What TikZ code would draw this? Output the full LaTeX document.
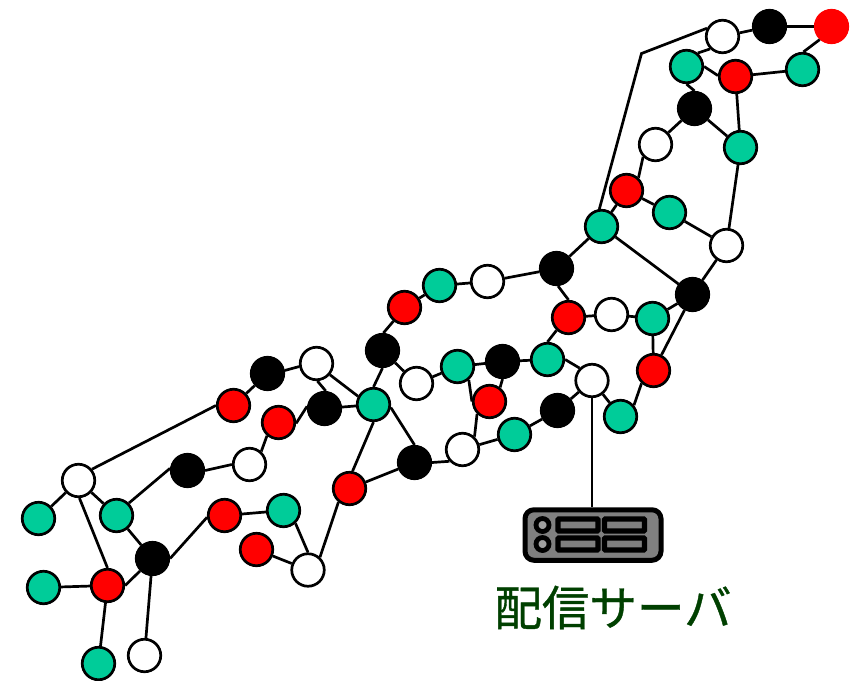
\documentclass[tikz,border=0pt]{standalone}
\usepackage{fontspec}
\newfontfamily\cjk[FakeBold=0.8]{Noto Sans CJK JP}
\definecolor{ngreen}{RGB}{0,204,153}
\definecolor{srvgray}{RGB}{128,128,128}
\definecolor{discgray}{RGB}{160,160,160}
\definecolor{lblgreen}{RGB}{0,64,0}
\tikzset{
  nd/.style={circle,draw=black,line width=2.7pt,minimum size=32.5pt,inner sep=0pt},
  gn/.style={nd,fill=ngreen},
  rd/.style={nd,fill=red},
  wh/.style={nd,fill=white},
  bk/.style={nd,fill=black},
  rr/.style={nd,fill=red,draw=red},
  edge/.style={draw=black,line width=2.7pt},
  srvbody/.style={draw=black,fill=srvgray,line width=5pt,rounded corners=9pt,minimum width=136pt,minimum height=50.5pt,inner sep=0pt},
  srvslot/.style={draw=black,fill=srvgray,line width=5.4pt,rounded corners=1pt,minimum width=40pt,minimum height=12pt,inner sep=0pt},
  srvdisc/.style={circle,draw=black,fill=discgray,line width=4.8pt,minimum size=13pt,inner sep=0pt},
}
\begin{document}
\begin{tikzpicture}[x=1pt,y=-1pt]
\useasboundingbox (-0.5,-0.5) rectangle (853.5,679.5);
\foreach \n/\s/\x/\y in {
 w1/wh/722/36,k1/bk/769/26,r1/rr/831/26,g1/gn/686/66,r2/rd/735/76,g2/gn/802/69,
 k2/bk/694/108,w2/wh/655/144,g3/gn/740/147,r3/rd/626/190,g4/gn/669/212,g5/gn/601/226,
 w3/wh/726/245,k3/bk/556/268,k4/bk/692/294,w4/wh/487/281,g6/gn/439/285,r4/rd/404/307,
 r5/rd/568/317,w5/wh/611/314,g7/gn/652/318,k5/bk/382/350,r6/rd/653/370,g8/gn/547/359,
 k6/bk/502/361,g9/gn/457/366,w6/wh/416/383,w7/wh/591.5/380,k7/bk/557/410,g10/gn/620/416,
 r7/rd/489/401,g11/gn/514/434,w8/wh/462/449,k8/bk/414/462,g12/gn/373/404,k9/bk/324/408,
 w9/wh/316/363,k10/bk/267/373,r8/rd/233/405,r9/rd/278/422,w10/wh/249/464,k11/bk/187/470,
 r10/rd/349/488,w11/wh/78/480,g13/gn/38/518,g14/gn/116/515,k12/bk/152/558,r11/rd/107/585,
 g15/gn/43/587,r12/rd/224/515,g16/gn/283/510,r13/rd/256/549,w12/wh/307.5/569.5,w13/wh/144/655,
 g17/gn/98/663}
 { \node[\s] (\n) at (\x,\y) {}; }
\coordinate (bend) at (641,53);
\node[srvbody] (srv) at (592.5,534.5) {};
\foreach \y [count=\i] in {524.5,543.5} {
  \node[srvdisc] (disc\i) at (542,\y) {};
  \node[srvslot] (sa\i) at (577.5,\y) {};
  \node[srvslot] (sb\i) at (624,\y) {};
}
\node[text=lblgreen,font=\cjk\fontsize{47.5}{52}\selectfont,inner sep=0pt] (lbl) at (612.5,607) {配信サーバ};
\foreach \a/\b in {
 w1/k1,k1/r1,r1.228/g2.87,g2/r2,g1.0/r2.177,g1.50/w1.225,g1.-90/k2.90,k2/w2,k2/g3,r2/g3,
 w2.225/r3.47,r3/g4,r3/g5,g4/w3,g3/w3,
 g5/k3,g5/k4,w3/k4,k3/w4,w4/g6,g6/r4,r4.231/k5.87,k3.-85/r5.90,r5/w5,w5/g7,g7/r6,k4/g7,k4/r6,
 g8.90/r5.227,g8/k6,k6/g9,g9/w6,w6/k5,k5.-90/g12.90,
 k6.-90/r7.53,g8.0/w7.135,w7/k7,w7/g10,g10.40/r6.227,k7/g11,g11/w8,w8.222/k8.0,k8/r10,g12.-10/k8.90,
 g12.-90/r10.80,g12/k9,k9.173/r9.-3,w9.-87/k9.86,k10.10/w9.190,w9.-40/g12.152,k10/r8,
 r8.180/w11.40,w10.48/r9.229,w10.180/k11.0,k11.173/g14.45,g14/w11,w11/g13,w11.-87/r11.90,g14/k12,
 k12.225/r11.0,r11/g15,r11/g17,k12/w13,k12.0/r12.186,r12/g16,g16.-47/w12.90,
 w12/r13,w12.47/r10.231,g9.-50/r7.180,r7.225/w8.47}
 { \draw[edge] (\a) -- (\b); }
\draw[edge] (g5.97) -- (bend) -- (w1.152);
\draw[edge] (w7.south) -- (w7.south |- srv.north);
\end{tikzpicture}
\end{document}
